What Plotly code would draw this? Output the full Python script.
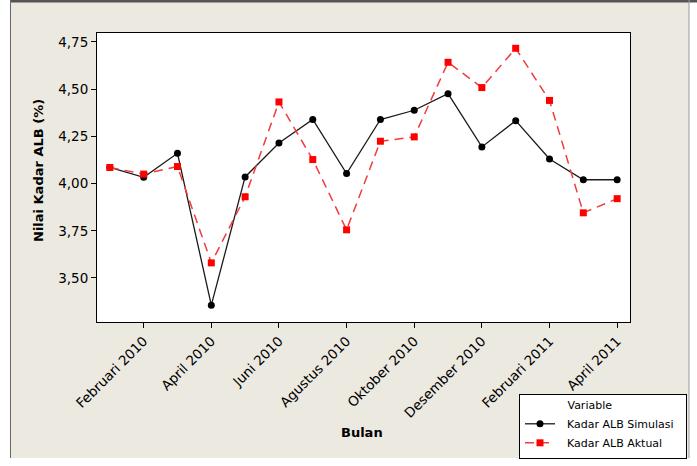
import plotly.graph_objects as go

months = ["Januari 2010", "Februari 2010", "Maret 2010", "April 2010", "Mei 2010",
          "Juni 2010", "Juli 2010", "Agustus 2010", "September 2010", "Oktober 2010",
          "November 2010", "Desember 2010", "Januari 2011", "Februari 2011",
          "Maret 2011", "April 2011"]
simulasi = [4.085, 4.033, 4.16, 3.356, 4.035, 4.215, 4.339, 4.053, 4.339, 4.388,
            4.476, 4.194, 4.333, 4.13, 4.02, 4.02]
aktual = [4.085, 4.05, 4.09, 3.58, 3.93, 4.432, 4.127, 3.755, 4.224, 4.247,
          4.642, 4.508, 4.716, 4.44, 3.845, 3.92]
xtick_labels = months[1::2]
ytick_vals = [3.50, 3.75, 4.00, 4.25, 4.50, 4.75]
series_names = ["Kadar ALB Simulasi", "Kadar ALB Aktual"]

W, H = 697, 466
L, R, T, B = 97, 67, 33, 144
PW, PH = W - L - R, H - T - B

def px(x):
    return (x - L) / PW

def py(y):
    return (H - B - y) / PH

BEIGE = "#ece9e1"
FONT = "DejaVu Sans"
NB = "&nbsp;"

fig = go.Figure()
fig.add_trace(go.Scatter(
    x=months, y=simulasi, name=NB * 2 + series_names[0] + NB * 2, mode="lines+markers",
    line=dict(color="#1a1a1a", width=1.3),
    marker=dict(symbol="circle", size=7, color="black")))
fig.add_trace(go.Scatter(
    x=months, y=aktual, name=NB * 2 + series_names[1], mode="lines+markers",
    line=dict(color="#f03c3c", width=1.5, dash="9px,6px"),
    marker=dict(symbol="square", size=7, color="#ff0000")))

shapes = [
    dict(type="rect", xref="paper", yref="paper", x0=px(0), x1=px(10), y0=py(0), y1=py(H),
         fillcolor="white", line=dict(width=0)),
    dict(type="rect", xref="paper", yref="paper", x0=px(689), x1=px(W), y0=py(0), y1=py(H),
         fillcolor="white", line=dict(width=0)),
    dict(type="rect", xref="paper", yref="paper", x0=px(0), x1=px(W), y0=py(458), y1=py(H),
         fillcolor="white", line=dict(width=0)),
    dict(type="line", xref="paper", yref="paper", x0=px(10), x1=px(W), y0=py(1), y1=py(1),
         line=dict(color="#555555", width=3)),
    dict(type="line", xref="paper", yref="paper", x0=px(10.5), x1=px(10.5), y0=py(0), y1=py(458),
         line=dict(color="#666666", width=1)),
    dict(type="line", xref="paper", yref="paper", x0=px(689), x1=px(689), y0=py(0), y1=py(458),
         line=dict(color="#999999", width=1)),
]

annotations = [
    dict(text="<b>Nilai Kadar ALB (%)</b>", xref="paper", yref="paper", x=px(38), y=py(171),
         textangle=-90, showarrow=False, font=dict(family=FONT, size=13, color="black"),
         xanchor="center", yanchor="middle"),
    dict(text="<b>Bulan</b>", xref="paper", yref="paper", x=px(362), y=py(432),
         showarrow=False, font=dict(family=FONT, size=13, color="black"),
         xanchor="center", yanchor="middle"),
]

fig.update_layout(
    width=W, height=H,
    margin=dict(l=L, r=R, t=T, b=B, autoexpand=False),
    paper_bgcolor=BEIGE, plot_bgcolor="white",
    separators=",.",
    font=dict(family=FONT, size=13, color="black"),
    shapes=shapes, annotations=annotations,
    xaxis=dict(type="category", range=[-0.38, 15.38], tickmode="array",
               tickvals=xtick_labels, ticktext=xtick_labels, tickangle=-45,
               ticks="outside", ticklen=5, tickcolor="black", showgrid=False,
               showline=True, linecolor="black", linewidth=1, mirror=True,
               zeroline=False, automargin=False, tickfont=dict(size=13.5)),
    yaxis=dict(range=[3.267, 4.797], tickmode="array", tickvals=ytick_vals,
               tickformat=".2f", ticks="outside", ticklen=5, tickcolor="black",
               showgrid=False, showline=True, linecolor="black", linewidth=1,
               mirror=True, zeroline=False, automargin=False, tickfont=dict(size=13.5)),
    legend=dict(x=px(519), y=py(394), xanchor="left", yanchor="top",
                bgcolor="white", bordercolor="black", borderwidth=1,
                font=dict(family=FONT, size=11, color="black"),
                title=dict(text=NB * 13 + "Variable", font=dict(family=FONT, size=11)),
                tracegroupgap=0, itemwidth=30),
    showlegend=True,
)

fig.write_html("out.html")
